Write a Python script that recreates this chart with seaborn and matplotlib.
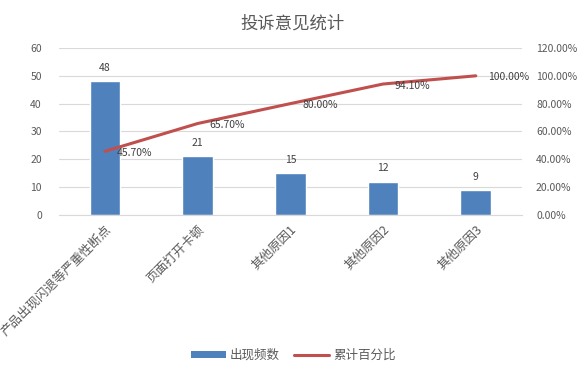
import numpy as np
import pandas as pd
import matplotlib.pyplot as plt
import seaborn as sns
from matplotlib.patches import Patch
from matplotlib.lines import Line2D
from matplotlib.ticker import PercentFormatter

# data
categories = ['产品出现闪退等严重性断点', '页面打开卡顿', '其他原因1', '其他原因2', '其他原因3']
counts = [48, 21, 15, 12, 9]
cum_pct = [45.70, 65.70, 80.00, 94.10, 100.00]

sns.set_style('white')
plt.rcParams['font.family'] = ['Noto Sans CJK SC', 'DejaVu Sans']

BAR = '#4F81BD'
LINE = '#C0504D'
TXT = '#595959'
GRID = '#D9D9D9'

df = pd.DataFrame({'原因': categories, '出现频数': counts, '累计百分比': cum_pct})

fig = plt.figure(figsize=(5.86, 3.75), dpi=100)
ax = fig.add_axes([0.1, 0.427, 0.791, 0.445])

sns.barplot(data=df, x='原因', y='出现频数', color=BAR, width=0.33, saturation=1, ax=ax)
ax.set_ylim(0, 60)
ax.set_yticks(range(0, 61, 10))
ax.yaxis.grid(True, color=GRID, linewidth=0.8)
ax.set_axisbelow(True)
ax.set_xlabel('')
ax.set_ylabel('')
for s in ['top', 'right', 'left']:
    ax.spines[s].set_visible(False)
ax.spines['bottom'].set_color(GRID)
ax.tick_params(axis='both', length=0, colors=TXT, labelsize=7.5)
ax.tick_params(axis='y', pad=12)
ax.set_xticks(range(len(categories)))
ax.set_xticklabels(categories, rotation=45, ha='right', rotation_mode='anchor', fontsize=9)
ax.tick_params(axis='x', pad=6)
for i, v in enumerate(df['出现频数']):
    ax.annotate(str(v), (i, v), xytext=(0, 6), textcoords='offset points',
                ha='center', va='bottom', fontsize=7.5, color='#404040')

ax2 = ax.twinx()
sns.lineplot(x=np.arange(len(df)), y=df['累计百分比'], color=LINE, linewidth=2.2, ax=ax2)
ax2.set_ylim(0, 120)
ax2.set_yticks(range(0, 121, 20))
ax2.yaxis.set_major_formatter(PercentFormatter(decimals=2))
ax2.set_ylabel('')
for s in ax2.spines.values():
    s.set_visible(False)
ax2.tick_params(axis='y', length=0, colors=TXT, labelsize=7.5, pad=10)
for i, v in enumerate(df['累计百分比']):
    ax2.annotate(f'{v:.2f}%', (i, v), xytext=(8.5, -1.2), textcoords='offset points',
                 ha='left', va='center', fontsize=7.5, color='#404040')
ax.set_xlim(-0.5, len(categories) - 0.5)

fig.suptitle('投诉意见统计', y=0.96, fontsize=12.5, color=TXT)

handles = [Patch(facecolor=BAR, edgecolor='none'),
           Line2D([0], [0], color=LINE, linewidth=2.2)]
fig.legend(handles, ['出现频数', '累计百分比'], loc='center', bbox_to_anchor=(0.5, 0.053),
           ncol=2, frameon=False, fontsize=9, labelcolor=TXT,
           handlelength=2.8, handleheight=0.45, columnspacing=1.2, handletextpad=0.3)

fig.savefig('out.png', dpi=100)
